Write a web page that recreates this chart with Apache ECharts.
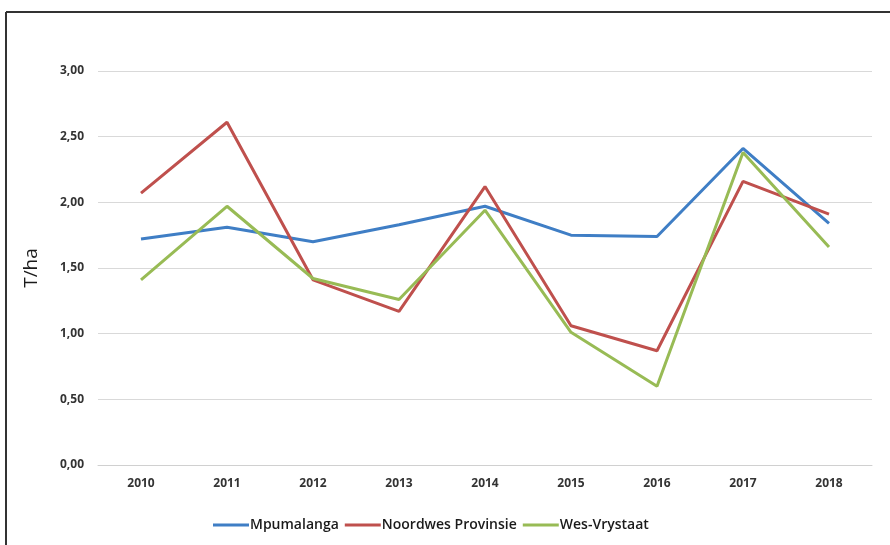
<!DOCTYPE html>
<html lang="en">
<head>
    <meta charset="UTF-8">
    <title>T/ha</title>
    <script src="https://cdn.jsdelivr.net/npm/echarts@6/dist/echarts.min.js"></script>
</head>
<body style="margin:0;background:#fff">
<div id="main" style="width: 890px;height:545px;"></div>
<script>
    const years = ['2010', '2011', '2012', '2013', '2014', '2015', '2016', '2017', '2018'];
    const mpumalanga = [1.72, 1.81, 1.70, 1.83, 1.97, 1.75, 1.74, 2.41, 1.84];
    const noordwes = [2.07, 2.61, 1.41, 1.17, 2.12, 1.06, 0.87, 2.16, 1.91];
    const wesVrystaat = [1.41, 1.97, 1.42, 1.26, 1.94, 1.01, 0.60, 2.38, 1.66];

    const myChart = echarts.init(document.getElementById('main'));
    const font = '"Open Sans", "Liberation Sans", sans-serif';

    function line(name, data, color) {
        return {
            name: name,
            type: 'line',
            data: data,
            showSymbol: false,
            symbol: 'none',
            lineStyle: {color: color, width: 3},
            itemStyle: {color: color}
        };
    }

    option = {
        animation: false,
        // frame round the picture (left and top edges)
        graphic: [
            {type: 'line', shape: {x1: 6, y1: 12, x2: 890, y2: 12}, style: {stroke: '#333', lineWidth: 2}},
            {type: 'line', shape: {x1: 6, y1: 12, x2: 6, y2: 545}, style: {stroke: '#333', lineWidth: 2}}
        ],
        grid: {left: 98, right: 18, top: 71, bottom: 80},
        legend: {
            bottom: 8,
            left: 208,
            itemWidth: 36,
            itemHeight: 3,
            itemGap: 6,
            icon: 'rect',
            textStyle: {fontFamily: font, fontSize: 14, fontWeight: 600, color: '#1a1a1a', padding: [0, 0, 0, -4]}
        },
        xAxis: {
            type: 'category',
            data: years,
            axisLine: {lineStyle: {color: '#d0d0d0'}},
            axisTick: {show: false},
            axisLabel: {fontFamily: font, fontSize: 12, fontWeight: 'bold', color: '#333', margin: 13}
        },
        yAxis: {
            type: 'value',
            min: 0,
            max: 3,
            interval: 0.5,
            name: 'T/ha',
            nameLocation: 'middle',
            nameGap: 57,
            nameTextStyle: {fontFamily: font, fontSize: 19, color: '#1a1a1a'},
            axisLine: {show: false},
            axisTick: {show: false},
            splitLine: {lineStyle: {color: '#d9d9d9'}},
            axisLabel: {
                fontFamily: font, fontSize: 12, fontWeight: 'bold', color: '#333', margin: 14,
                formatter: function (v) { return v.toFixed(2).replace('.', ','); }
            }
        },
        series: [
            line('Mpumalanga', mpumalanga, '#3f7ec5'),
            line('Noordwes Provinsie', noordwes, '#bf504d'),
            line('Wes-Vrystaat', wesVrystaat, '#98bb55')
        ]
    };
    myChart.setOption(option);
</script>
</body>
</html>
